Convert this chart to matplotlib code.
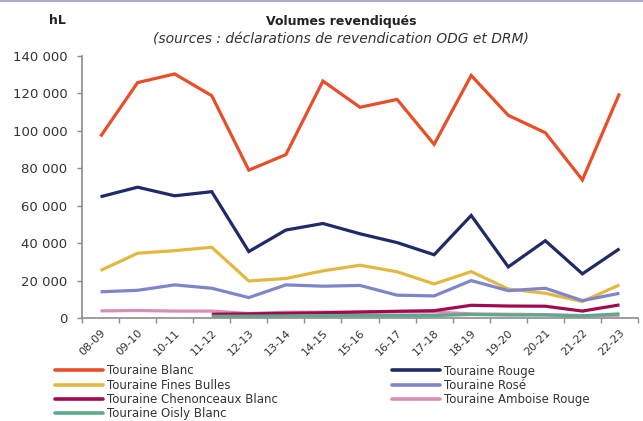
import matplotlib
matplotlib.use("Agg")
import matplotlib.pyplot as plt
from matplotlib.lines import Line2D
from matplotlib.ticker import FuncFormatter, FixedLocator
import numpy as np

plt.rcParams['font.family'] = ['DejaVu Sans']

campagnes = ["08-09", "09-10", "10-11", "11-12", "12-13", "13-14", "14-15", "15-16",
             "16-17", "17-18", "18-19", "19-20", "20-21", "21-22", "22-23"]

touraine_blanc = [97000, 125800, 130400, 118800, 79000, 87300, 126600, 112600,
                  116800, 92800, 129600, 108300, 99000, 73800, 120000]
touraine_rouge = [64800, 69900, 65300, 67500, 35500, 47000, 50500, 45000,
                  40300, 33800, 54800, 27300, 41300, 23600, 37000]
fines_bulles = [25400, 34600, 36000, 37800, 19800, 21100, 25200, 28200,
                24700, 18200, 24800, 15500, 13200, 8800, 17700]
rose = [14000, 14800, 17700, 15900, 10900, 17700, 17000, 17400,
        12200, 11800, 20000, 14600, 15900, 9300, 13200]
chenonceaux = [None, None, None, 2000, 2200, 2500, 2800, 3200,
               3600, 3900, 6800, 6400, 6300, 3700, 7000]
amboise = [3800, 4000, 3700, 3700, 2400, 3100, 3100, 3100,
           3200, 3200, 2200, 2000, 1800, 1300, 1500]
oisly = [None, None, None, 900, 1000, 1100, 1200, 1300,
         1300, 1300, 1900, 1600, 1600, 1100, 2200]

series = [
    ("Touraine Blanc", touraine_blanc, "#E84E27"),
    ("Touraine Rouge", touraine_rouge, "#1F2A68"),
    ("Touraine Fines Bulles", fines_bulles, "#E3B840"),
    ("Touraine Rosé", rose, "#7E85CB"),
    ("Touraine Amboise Rouge", amboise, "#D98DB7"),
    ("Touraine Chenonceaux Blanc", chenonceaux, "#A10A4F"),
    ("Touraine Oisly Blanc", oisly, "#5BAA8B"),
]

W, H = 643, 421
fig = plt.figure(figsize=(W / 100, H / 100), dpi=100)
ax = fig.add_axes([82 / W, 1 - 318 / H, (638 - 82) / W, (318 - 56) / H])

x = np.arange(len(campagnes))
handles = {}
for name, vals, col in series:
    y = np.array([np.nan if v is None else v for v in vals], dtype=float)
    h, = ax.plot(x, y, color=col, lw=2.3, solid_capstyle='butt', solid_joinstyle='miter')
    handles[name] = h

ax.set_xlim(-0.5, len(campagnes) - 0.5)
ax.set_ylim(0, 140000)
ax.set_yticks(np.arange(0, 140001, 20000))
ax.yaxis.set_major_formatter(FuncFormatter(lambda v, p: f"{int(v):,}".replace(",", " ")))

ax.set_xticks(x)
ax.set_xticklabels(campagnes, rotation=45, ha='right', rotation_mode='anchor')
ax.xaxis.set_minor_locator(FixedLocator(np.arange(-0.5, len(campagnes), 1.0)))
ax.tick_params(axis='x', which='major', length=0, pad=7, labelsize=8, labelcolor='#333333')
ax.tick_params(axis='x', which='minor', length=3.5, width=1, color='#8c8c8c', direction='out')
ax.tick_params(axis='y', length=3.5, width=1, color='#8c8c8c', pad=7, labelsize=9.5,
               labelcolor='#333333')

for s in ['top', 'right']:
    ax.spines[s].set_visible(False)
for s in ['left', 'bottom']:
    ax.spines[s].set_color('#8c8c8c')
    ax.spines[s].set_linewidth(1.2)

fig.text(57 / W, 1 - 24.5 / H, "hL", ha='center', va='baseline', fontsize=9,
         fontweight='bold', color='#222222')
fig.text(341 / W, 1 - 24.5 / H, "Volumes revendiqués", ha='center', va='baseline',
         fontsize=9, fontweight='bold', color='#222222')
fig.text(341 / W, 1 - 43.5 / H, "(sources : déclarations de revendication ODG et DRM)",
         ha='center', va='baseline', fontsize=10, style='italic', color='#333333')

left_names = ["Touraine Blanc", "Touraine Fines Bulles", "Touraine Chenonceaux Blanc",
              "Touraine Oisly Blanc"]
right_names = ["Touraine Rouge", "Touraine Rosé", "Touraine Amboise Rouge"]
leg_kw = dict(loc='upper left', frameon=False, fontsize=8.5, handlelength=4.05,
              handletextpad=0.38, labelspacing=0.1, borderpad=0, borderaxespad=0,
              labelcolor='#333333')
lg1 = fig.legend([handles[n] for n in left_names], left_names,
                 bbox_to_anchor=(55 / W, 1 - 364.5 / H), **leg_kw)
lg2 = fig.legend([handles[n] for n in right_names], right_names,
                 bbox_to_anchor=(392 / W, 1 - 364.5 / H), **leg_kw)
for lg in (lg1, lg2):
    for l in lg.get_lines():
        l.set_linewidth(2.6)
        l.set_solid_capstyle('round')

fig.add_artist(Line2D([0, 1], [1 - 0.5 / H, 1 - 0.5 / H], transform=fig.transFigure,
                      color='#A9ADD0', lw=1.5))

fig.savefig("out.png", dpi=100)
